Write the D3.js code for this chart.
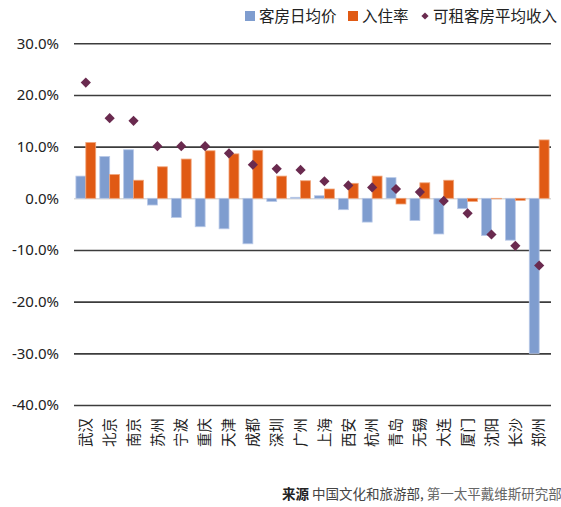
<!DOCTYPE html>
<html>
<head>
<meta charset="utf-8">
<script src="https://cdn.jsdelivr.net/npm/d3@7"></script>
<style>
  body { margin: 0; background: #fff; }
  svg { display: block; }
</style>
</head>
<body>
<div class="chart"></div>
<script>
    // values in percent
    const cities = ["武汉","北京","南京","苏州","宁波","重庆","天津","成都","深圳","广州",
                    "上海","西安","杭州","青岛","无锡","大连","厦门","沈阳","长沙","郑州"];
    const adr    = [4.3, 8.1, 9.4, -1.3, -3.7, -5.5, -5.9, -8.8, -0.6, 0.2,
                    0.5, -2.2, -4.6, 4.0, -4.3, -6.9, -2.0, -7.2, -8.1, -30.0];
    const occ    = [10.8, 4.6, 3.5, 6.1, 7.6, 9.2, 8.6, 9.3, 4.3, 3.4,
                    1.8, 2.9, 4.3, -1.1, 3.0, 3.5, -0.6, -0.1, -0.4, 11.3];
    const revpar = [22.4, 15.5, 15.0, 10.1, 10.1, 10.1, 8.7, 6.5, 5.7, 5.5,
                    3.3, 2.5, 2.1, 1.8, 1.2, -0.5, -2.9, -7.0, -9.2, -13.0];
    const yTicks = [30, 20, 10, 0, -10, -20, -30, -40];
    const seriesNames = ["客房日均价", "入住率", "可租客房平均收入"];

    const colors = {adr: "#7f9dcf", occ: "#e05a14", revpar: "#6a2a4f"};
    const cjk = "'Noto Sans CJK SC', sans-serif";

    const W = 561, H = 507;
    const svg = d3.select(".chart").append("svg")
        .attr("width", W)
        .attr("height", H);

    const x = d3.scaleBand()
        .domain(cities)
        .range([74, 551])
        .paddingInner(0.17)
        .paddingOuter(0.08);

    const y = d3.scaleLinear()
        .domain([-40, 30])
        .range([405, 43.3]);

    // y axis + grid lines
    const yAxis = d3.axisLeft(y)
        .tickValues(yTicks)
        .tickSize(-(551 - 74))
        .tickPadding(15)
        .tickFormat(d => d.toFixed(1) + "%");

    const gy = svg.append("g")
        .attr("transform", "translate(74,0)")
        .call(yAxis);
    gy.select(".domain").remove();
    gy.selectAll(".tick line")
        .attr("stroke", d => d === 0 ? "#d9d9d9" : "#3c3c3c")
        .attr("stroke-width", 1.6);
    gy.selectAll(".tick text")
        .attr("font-family", "'Noto Sans', sans-serif")
        .attr("font-size", "15px")
        .attr("fill", "#222");

    const half = x.bandwidth() / 2;

    // bars
    const bars = svg.append("g");
    bars.selectAll("rect.adr")
        .data(cities)
        .join("rect")
        .attr("class", "adr")
        .attr("x", d => x(d))
        .attr("width", half)
        .attr("y", (d, i) => y(Math.max(0, adr[i])))
        .attr("height", (d, i) => Math.abs(y(adr[i]) - y(0)))
        .attr("fill", colors.adr)
        .attr("stroke", "#b9c9e8")
        .attr("stroke-width", 0.8);

    bars.selectAll("rect.occ")
        .data(cities)
        .join("rect")
        .attr("class", "occ")
        .attr("x", d => x(d) + half)
        .attr("width", half)
        .attr("y", (d, i) => y(Math.max(0, occ[i])))
        .attr("height", (d, i) => Math.abs(y(occ[i]) - y(0)))
        .attr("fill", colors.occ)
        .attr("stroke", "#f0a57a")
        .attr("stroke-width", 0.8);

    // diamonds
    const diamond = d3.symbol(d3.symbolSquare, 52);
    svg.append("g").selectAll("path")
        .data(cities)
        .join("path")
        .attr("d", diamond)
        .attr("transform", (d, i) =>
            `translate(${x(d) + x.bandwidth() / 2},${y(revpar[i])}) rotate(45)`)
        .attr("fill", colors.revpar);

    // x labels, rotated, reading bottom to top
    svg.append("g").selectAll("text")
        .data(cities)
        .join("text")
        .attr("transform", d => `translate(${x(d) + x.bandwidth() / 2},418) rotate(-90)`)
        .attr("dy", "0.36em")
        .attr("text-anchor", "end")
        .attr("font-family", cjk)
        .attr("font-size", "14.5px")
        .attr("fill", "#222")
        .text(d => d);

    // legend
    const legend = svg.append("g")
        .attr("font-family", cjk)
        .attr("font-size", "15.5px")
        .attr("fill", "#222");
    legend.append("rect").attr("x", 245).attr("y", 11).attr("width", 10).attr("height", 10)
        .attr("fill", colors.adr);
    legend.append("text").attr("x", 259).attr("y", 22).text(seriesNames[0]);
    legend.append("rect").attr("x", 348).attr("y", 11).attr("width", 10).attr("height", 10)
        .attr("fill", colors.occ);
    legend.append("text").attr("x", 362).attr("y", 22).text(seriesNames[1]);
    legend.append("path")
        .attr("d", d3.symbol(d3.symbolSquare, 26))
        .attr("transform", "translate(425,16) rotate(45)")
        .attr("fill", colors.revpar);
    legend.append("text").attr("x", 433).attr("y", 22).text(seriesNames[2]);

    // source
    const src = svg.append("text")
        .attr("x", 282)
        .attr("y", 499)
        .attr("font-family", cjk)
        .attr("font-size", "13.5px");
    src.append("tspan").attr("font-weight", "bold").attr("fill", "#222").text("来源 ");
    src.append("tspan").attr("fill", "#444").text("中国文化和旅游部, ");
    src.append("tspan").attr("fill", "#666").text("第一太平戴维斯研究部");
</script>
</body>
</html>
